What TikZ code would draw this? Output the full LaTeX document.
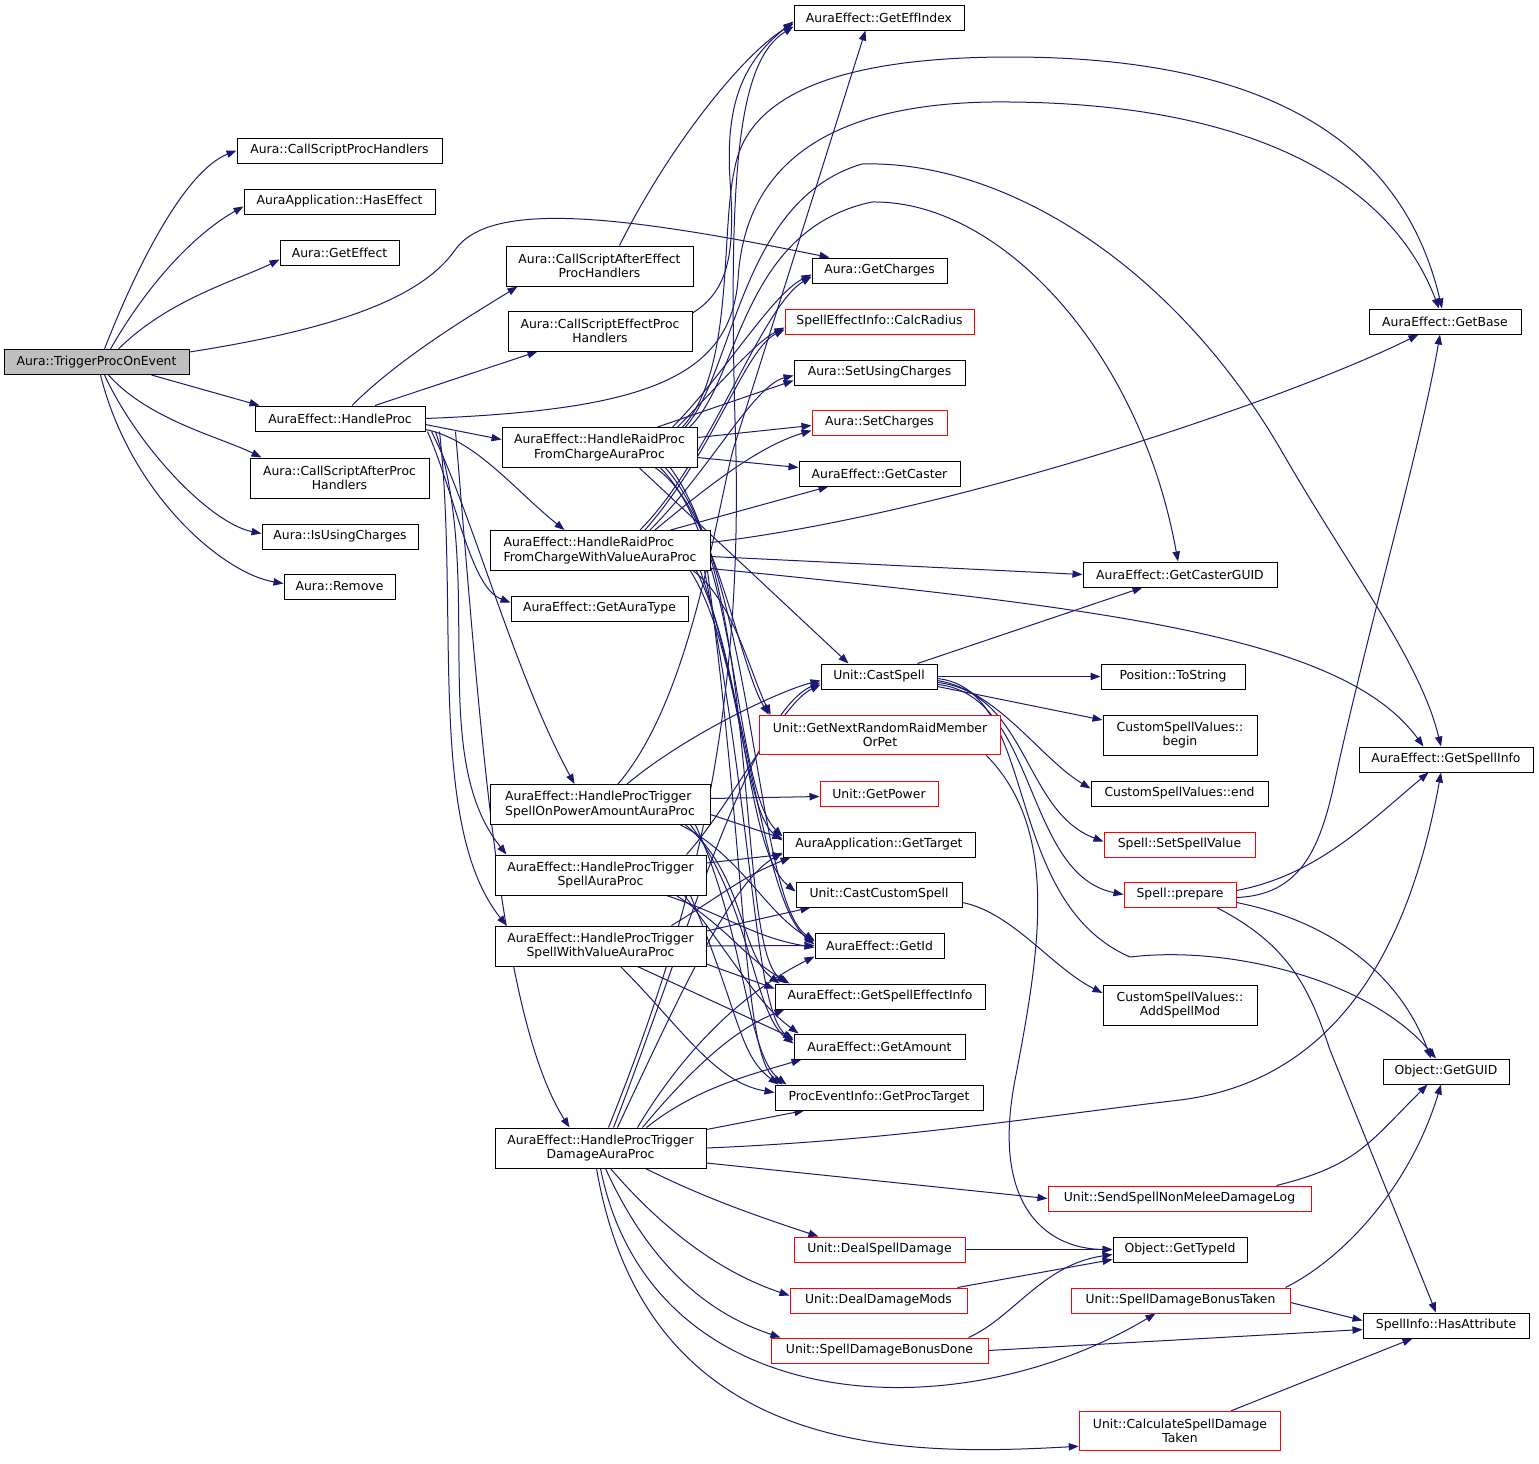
\documentclass[tikz,border=0pt]{standalone}
\usepackage{fontspec}
\setmainfont{DejaVu Sans}[Ligatures=NoCommon]
\usetikzlibrary{arrows.meta,calc}
\pgfdeclarelayer{bg}
\pgfsetlayers{bg,main}
\definecolor{edgec}{RGB}{25,25,112}
\definecolor{grayfill}{RGB}{191,191,191}
\definecolor{redc}{RGB}{255,0,0}
\tikzset{
 box/.style={draw=black, fill=white, line width=0.75pt, inner sep=0pt, align=center, minimum height=18.75pt, font=\fontsize{9.3}{11}\selectfont},
 tall/.style={minimum height=30pt},
 redb/.style={draw=redc},
 wd/.style={minimum width=#1*0.75pt},
 arr/.style={draw=edgec, line width=0.75pt, -{Triangle[length=7.5pt,width=5.5pt]}},
 redframe/.style={draw=redc, line width=1pt},
 plain/.style={inner sep=0pt, align=center, font=\fontsize{9.3}{11}\selectfont, text=black},
}
\begin{document}
\begin{tikzpicture}[x=0.75pt,y=-0.75pt]
\useasboundingbox (0,0) rectangle (1539,1464);
% two-line red boxes
\fill[white] (759,715) rectangle (1001,755);
\fill[white] (1079,1411) rectangle (1281,1451);
\node[plain, minimum width=181.5pt, minimum height=30pt] (GNR) at (880,735) {Unit::GetNextRandomRaidMember\\OrPet};
\node[plain, minimum width=151.5pt, minimum height=30pt] (CSDT) at (1180,1431) {Unit::CalculateSpellDamage\\Taken};
\draw[redframe] (759.5,715.5) rectangle (1000.5,754.5);
\draw[redframe] (1079.5,1411.5) rectangle (1280.5,1450.5);
% column 1-2
\node[box,wd=185,fill=grayfill] (T) at (96.5,362) {Aura::TriggerProcOnEvent};
\node[box,wd=205] (CSPH) at (339.5,150.5) {Aura::CallScriptProcHandlers};
\node[box,wd=191] (HasEff) at (339.5,201.5) {AuraApplication::HasEffect};
\node[box,wd=119] (GetEffect) at (339.5,252.5) {Aura::GetEffect};
\node[box,wd=170] (HP) at (340,418.5) {AuraEffect::HandleProc};
\node[box,tall,wd=179] (CSAPH) at (339.5,478) {Aura::CallScriptAfterProc\\Handlers};
\node[box,wd=156] (IsUsing) at (340,536.5) {Aura::IsUsingCharges};
\node[box,wd=111] (Remove) at (339.5,586.5) {Aura::Remove};
% column 3
\node[box,tall,wd=187] (CSAEPH) at (599.5,266) {Aura::CallScriptAfterEffect\\ProcHandlers};
\node[box,tall,wd=184] (CSEPH) at (600,331) {Aura::CallScriptEffectProc\\Handlers};
\node[box,tall,wd=195] (RC) at (599.5,447.5) {AuraEffect::HandleRaidProc\\FromChargeAuraProc};
\node[box,tall,wd=220,align=left] (RCV) at (600,550.5) {AuraEffect::HandleRaidProc\\FromChargeWithValueAuraProc};
\node[box,wd=177] (GAT) at (599.5,608.5) {AuraEffect::GetAuraType};
\node[box,tall,wd=220,align=left] (PTP) at (600,804.5) {AuraEffect::HandleProcTrigger\\SpellOnPowerAmountAuraProc};
\node[box,tall,wd=211] (PTS) at (600.5,875) {AuraEffect::HandleProcTrigger\\SpellAuraProc};
\node[box,tall,wd=211] (PTV) at (600.5,946) {AuraEffect::HandleProcTrigger\\SpellWithValueAuraProc};
\node[box,tall,wd=211] (PTD) at (600.5,1148) {AuraEffect::HandleProcTrigger\\DamageAuraProc};
% column 4
\node[box,wd=170] (GEI) at (879,17.5) {AuraEffect::GetEffIndex};
\node[box,wd=135] (GCh) at (879.5,270.5) {Aura::GetCharges};
\node[box,redb,wd=189] (CR) at (879.5,321.5) {SpellEffectInfo::CalcRadius};
\node[box,wd=171] (SUC) at (879.5,372.5) {Aura::SetUsingCharges};
\node[box,redb,wd=135] (SCh) at (879.5,422.5) {Aura::SetCharges};
\node[box,wd=161] (GCa) at (879.5,473.5) {AuraEffect::GetCaster};
\node[box,wd=116] (CS) at (879,676.5) {Unit::CastSpell};
\node[box,redb,wd=118] (GP) at (879,793.5) {Unit::GetPower};
\node[box,wd=192] (GT) at (879,844.5) {AuraApplication::GetTarget};
\node[box,wd=166] (CCS) at (879,894.5) {Unit::CastCustomSpell};
\node[box,wd=129] (GId) at (879.5,945.5) {AuraEffect::GetId};
\node[box,wd=210] (GSEI) at (880,996.5) {AuraEffect::GetSpellEffectInfo};
\node[box,wd=171] (GAm) at (879.5,1046.5) {AuraEffect::GetAmount};
\node[box,wd=208] (GPT) at (879,1097.5) {ProcEventInfo::GetProcTarget};
\node[box,redb,wd=171] (DSD) at (879.5,1249.5) {Unit::DealSpellDamage};
\node[box,redb,wd=177] (DDM) at (878.5,1300.5) {Unit::DealDamageMods};
\node[box,redb,wd=217] (SDBD) at (879.5,1350.5) {Unit::SpellDamageBonusDone};
% column 5
\node[box,wd=194] (GCG) at (1180,574.5) {AuraEffect::GetCasterGUID};
\node[box,wd=144] (TS) at (1173,676.5) {Position::ToString};
\node[box,tall,wd=154] (CBeg) at (1180,735) {CustomSpellValues::\\begin};
\node[box,wd=177] (CEnd) at (1179.5,793.5) {CustomSpellValues::end};
\node[box,redb,wd=151] (SSV) at (1179.5,844.5) {Spell::SetSpellValue};
\node[box,redb,wd=112] (SPr) at (1180,894.5) {Spell::prepare};
\node[box,tall,wd=154] (ASM) at (1180,1005) {CustomSpellValues::\\AddSpellMod};
\node[box,redb,wd=263] (SNM) at (1179.5,1198.5) {Unit::SendSpellNonMeleeDamageLog};
\node[box,wd=134] (GTI) at (1180,1249.5) {Object::GetTypeId};
\node[box,redb,wd=219] (SDBT) at (1180.5,1300.5) {Unit::SpellDamageBonusTaken};
% column 6
\node[box,wd=152] (GB) at (1445,321.5) {AuraEffect::GetBase};
\node[box,wd=174] (GSI) at (1446,759.5) {AuraEffect::GetSpellInfo};
\node[box,wd=126] (GG) at (1446,1071.5) {Object::GetGUID};
\node[box,wd=166] (HA) at (1446,1325.5) {SpellInfo::HasAttribute};

\begin{pgfonlayer}{bg}
% TriggerProcOnEvent
\draw[arr] ($(T.north)+(8,0)$) .. controls +(35,-90) and +(-50,20) .. (CSPH.west);
\draw[arr] ($(T.north)+(14,0)$) .. controls +(40,-70) and +(-45,25) .. ($(HasEff.west)+(0,5)$);
\draw[arr] ($(T.north)+(22,0)$) .. controls +(50,-50) and +(-40,20) .. ($(GetEffect.west)+(0,7)$);
\draw[arr] ($(T.east)+(0,-10)$) .. controls (330,330) and (420,300) .. (455,250) .. controls (490,200) and (620,215) .. ($(GCh.north west)+(18,0)$);
\draw[arr] ($(T.south)+(55,0)$) -- ($(HP.north west)+(5,0)$);
\draw[arr] ($(T.south)+(12,0)$) .. controls +(40,45) and +(-40,-20) .. ($(CSAPH.north west)+(12,0)$);
\draw[arr] ($(T.south)+(8,0)$) .. controls +(35,75) and +(-50,-10) .. ($(IsUsing.west)+(0,-3)$);
\draw[arr] ($(T.south)+(4,0)$) .. controls +(30,120) and +(-60,-10) .. ($(Remove.west)+(0,-3)$);
% HandleProc
\draw[arr] ($(HP.north)+(12,0)$) .. controls +(50,-50) and +(-40,25) .. ($(CSAEPH.south west)+(12,0)$);
\draw[arr] ($(HP.north)+(35,0)$) -- ($(CSEPH.south west)+(30,0)$);
\draw[arr] (HP.east) .. controls (640,410) and (730,380) .. (738,280) .. controls (745,150) and (850,100) .. (1010,102) .. controls (1250,104) and (1390,180) .. ($(GB.north)+(-6,0)$);
\draw[arr] ($(HP.east)+(0,6)$) -- ($(RC.west)+(0,-8)$);
\draw[arr] ($(HP.south east)+(0,-2)$) .. controls +(50,10) and +(-50,-40) .. ($(RCV.north west)+(75,0)$);
\draw[arr] ($(HP.south east)+(2,0)$) .. controls +(30,70) and +(-40,-15) .. ($(GAT.west)+(0,-6)$);
\draw[arr] ($(HP.south east)+(6,0)$) .. controls +(40,80) and +(-60,-110) .. ($(PTP.north west)+(85,0)$);
\draw[arr] ($(HP.south east)+(10,0)$) .. controls +(50,150) and +(-80,-100) .. ($(PTS.north west)+(12,0)$);
\draw[arr] ($(HP.south east)+(14,0)$) .. controls +(20,180) and +(-80,-100) .. ($(PTV.north west)+(12,0)$);
\draw[arr] ($(HP.south east)+(30,0)$) .. controls +(25,300) and +(-70,-110) .. ($(PTD.north west)+(75,0)$);
% CallScript...
\draw[arr] ($(CSAEPH.north)+(20,0)$) .. controls +(50,-100) and +(-50,30) .. ($(GEI.west)+(0,6)$);
\draw[arr] ($(CSEPH.east)+(0,-18)$) .. controls (730,290) and (735,250) .. (730,180) .. controls (725,100) and (745,60) .. ($(GEI.west)+(0,4)$);
% RC
\draw[arr] ($(RC.east)+(0,-10)$) -- ($(SCh.west)+(0,3)$);
\draw[arr] ($(RC.east)+(0,10)$) -- ($(GCa.west)+(0,-6)$);
\draw[arr] ($(RC.north east)+(-40,0)$) -- ($(SUC.west)+(0,8)$);
\draw[arr] ($(RC.north east)+(-25,0)$) .. controls +(50,-50) and +(-40,20) .. ($(GCh.west)+(0,4)$);
\draw[arr] ($(RC.north east)+(-20,0)$) .. controls +(40,-40) and +(-30,15) .. ($(CR.west)+(0,6)$);
\draw[arr] ($(RC.north east)+(-15,0)$) .. controls (735,370) and (720,230) .. (735,167) .. controls (750,90) and (850,57) .. (1010,57) .. controls (1250,57) and (1400,130) .. ($(GB.north)+(-3,0)$);
\draw[arr] ($(RC.north east)+(-12,0)$) .. controls (735,370) and (740,200) .. (862,164) .. controls (1000,160) and (1170,260) .. (1281,450) .. controls (1350,570) and (1420,660) .. ($(GSI.north)+(-5,0)$);
\draw[arr] ($(RC.north east)+(-8,0)$) .. controls (740,380) and (740,230) .. (872,202) .. controls (1000,200) and (1140,350) .. ($(GCG.north)+(-2,0)$);
\draw[arr] ($(RC.south)+(40,0)$) -- ($(CS.north west)+(28,0)$);
\draw[arr] ($(RC.south east)+(-42,0)$) .. controls +(60,40) and +(-30,-50) .. ($(GNR.north west)+(10,0)$);
\draw[arr] ($(RC.south east)+(-37,0)$) .. controls +(80,80) and +(-50,-50) .. ($(GT.west)+(0,-8)$);
\draw[arr] ($(RC.south east)+(-32,0)$) .. controls +(90,100) and +(-60,-40) .. ($(GId.west)+(0,-5)$);
\draw[arr] ($(RC.south east)+(-27,0)$) .. controls +(90,120) and +(-50,-40) .. ($(GSEI.north west)+(12,0)$);
% RCV
\draw[arr] ($(RCV.north east)+(-40,0)$) -- ($(GCa.south west)+(30,0)$);
\draw[arr] ($(RCV.east)+(0,-8)$) .. controls +(250,-30) and +(-120,60) .. ($(GB.south west)+(50,0)$);
\draw[arr] ($(RCV.east)+(0,6)$) -- (GCG.west);
\draw[arr] ($(RCV.east)+(0,18)$) .. controls +(400,40) and +(-80,-110) .. ($(GSI.north west)+(65,0)$);
\draw[arr] ($(RCV.north)+(40,0)$) .. controls +(70,-70) and +(-50,30) .. ($(GCh.west)+(0,6)$);
\draw[arr] ($(RCV.north)+(45,0)$) .. controls +(70,-80) and +(-40,20) .. ($(CR.west)+(0,8)$);
\draw[arr] ($(RCV.north)+(50,0)$) .. controls +(60,-60) and +(-40,10) .. ($(SUC.west)+(0,3)$);
\draw[arr] ($(RCV.north)+(55,0)$) .. controls +(60,-50) and +(-50,15) .. ($(SCh.west)+(0,8)$);
\draw[arr] ($(RCV.south east)+(-17,0)$) .. controls +(40,30) and +(-20,-40) .. ($(GNR.north west)+(12,0)$);
\draw[arr] ($(RCV.south east)+(-20,0)$) .. controls +(50,80) and +(-40,-30) .. ($(GT.west)+(0,-4)$);
\draw[arr] ($(RCV.south east)+(-14,0)$) .. controls +(50,100) and +(-50,-40) .. ($(CCS.west)+(0,-3)$);
\draw[arr] ($(RCV.south east)+(-10,0)$) .. controls +(50,150) and +(-50,-40) .. ($(GId.west)+(0,-1)$);
\draw[arr] ($(RCV.south east)+(-6,0)$) .. controls +(50,250) and +(-40,-30) .. ($(GAm.west)+(0,-6)$);
\draw[arr] ($(RCV.south east)+(-3,0)$) .. controls +(40,300) and +(-40,-30) .. ($(GPT.north west)+(8,0)$);
% PTP
\draw[arr] ($(PTP.north)+(18,0)$) .. controls (690,700) and (715,520) .. (733,450) -- ($(GEI.south west)+(72,0)$);
\draw[arr] ($(PTP.north)+(27,0)$) .. controls +(60,-50) and +(-40,10) .. ($(CS.west)+(0,4)$);
\draw[arr] ($(PTP.east)+(0,-6)$) -- ($(GP.west)+(0,3)$);
\draw[arr] ($(PTP.east)+(0,10)$) -- ($(GT.west)+(0,-6)$);
\draw[arr] ($(PTP.south east)+(-30,0)$) .. controls +(60,30) and +(-50,-30) .. ($(GId.west)+(0,-4)$);
\draw[arr] ($(PTP.south east)+(-25,0)$) .. controls +(60,50) and +(-40,-30) .. ($(GSEI.north west)+(5,0)$);
\draw[arr] ($(PTP.south east)+(-20,0)$) .. controls +(60,80) and +(-40,-30) .. ($(GAm.west)+(0,-3)$);
\draw[arr] ($(PTP.south east)+(-15,0)$) .. controls +(50,110) and +(-40,-30) .. ($(GPT.north west)+(12,0)$);
% PTS
\draw[arr] ($(PTS.east)+(0,-12)$) -- ($(GT.west)+(0,10)$);
\draw[arr] ($(PTS.north east)+(-20,0)$) .. controls +(45,-50) and +(-40,20) .. ($(CS.west)+(0,8)$);
\draw[arr] ($(PTS.south east)+(-40,0)$) .. controls +(60,20) and +(-60,-10) .. ($(GId.west)+(0,2)$);
\draw[arr] ($(PTS.south east)+(-30,0)$) .. controls +(60,40) and +(-50,-30) .. ($(GSEI.north west)+(15,0)$);
\draw[arr] ($(PTS.south east)+(-22,0)$) .. controls +(60,80) and +(-40,-30) .. ($(GAm.north west)+(5,0)$);
\draw[arr] ($(PTS.south east)+(-16,0)$) .. controls +(50,120) and +(-40,-30) .. ($(GPT.north west)+(4,0)$);
% PTV
\draw[arr] ($(PTV.north east)+(-35,0)$) .. controls +(50,-30) and +(-50,20) .. ($(GT.south west)+(8,0)$);
\draw[arr] ($(PTV.east)+(0,-15)$) -- ($(CCS.south west)+(15,0)$);
\draw[arr] (PTV.east) -- (GId.west);
\draw[arr] ($(PTV.east)+(0,18)$) -- ($(GSEI.west)+(0,-8)$);
\draw[arr] ($(PTV.south)+(37,0)$) -- ($(GAm.west)+(0,-8)$);
\draw[arr] ($(PTV.south)+(20,0)$) .. controls +(60,60) and +(-60,-10) .. ($(GPT.west)+(0,-5)$);
% PTD
\draw[arr] ($(PTD.north)+(13,0)$) .. controls +(70,-180) and +(-70,30) .. ($(CS.west)+(0,6)$);
\draw[arr] ($(PTD.north)+(17,0)$) .. controls +(70,-150) and +(-50,30) .. ($(GT.west)+(0,8)$);
\draw[arr] ($(PTD.north)+(8,0)$) .. controls (700,900) and (745,700) .. (735,420) .. controls (728,160) and (740,60) .. ($(GEI.west)+(0,9)$);
\draw[arr] ($(PTD.north)+(37,0)$) .. controls +(60,-100) and +(-50,25) .. ($(GId.south west)+(0,-2)$);
\draw[arr] ($(PTD.north)+(42,0)$) .. controls +(50,-60) and +(-50,20) .. ($(GSEI.south west)+(10,0)$);
\draw[arr] ($(PTD.north east)+(-60,0)$) .. controls +(50,-40) and +(-50,15) .. ($(GAm.south west)+(8,0)$);
\draw[arr] ($(PTD.north east)+(0,2)$) -- ($(GPT.south west)+(30,0)$);
\draw[arr] (PTD.east) .. controls (900,1140) and (1050,1115) .. (1180,1100) .. controls (1300,1085) and (1400,1000) .. ($(GSI.south)+(-5,0)$);
\draw[arr] ($(PTD.east)+(0,15)$) -- (SNM.west);
\draw[arr] ($(PTD.south)+(45,0)$) .. controls +(60,30) and +(-60,-20) .. ($(DSD.north west)+(25,0)$);
\draw[arr] ($(PTD.south)+(10,0)$) .. controls +(60,70) and +(-60,-20) .. ($(DDM.west)+(0,-5)$);
\draw[arr] ($(PTD.south)+(5,0)$) .. controls +(50,110) and +(-60,-20) .. ($(SDBD.north west)+(10,0)$);
\draw[arr] (PTD.south) .. controls +(50,250) and +(-200,120) .. ($(SDBT.south west)+(85,0)$);
\draw[arr] ($(PTD.south)+(-4,0)$) .. controls +(50,290) and +(-180,10) .. ($(CSDT.south west)+(0,-5)$);
% CastSpell
\draw[arr] ($(CS.north east)+(-20,0)$) -- ($(GCG.south west)+(60,0)$);
\draw[arr] (CS.east) -- (TS.west);
\draw[arr] ($(CS.east)+(0,10)$) -- ($(CBeg.west)+(0,-15)$);
\draw[arr] ($(CS.east)+(0,4)$) .. controls +(60,10) and +(-50,-30) .. ($(CEnd.west)+(0,-5)$);
\draw[arr] ($(CS.east)+(0,6)$) .. controls +(90,10) and +(-80,-30) .. ($(SSV.west)+(0,-3)$);
\draw[arr] ($(CS.east)+(0,8)$) .. controls +(100,10) and +(-100,-20) .. (SPr.west);
\draw[arr] ($(CS.east)+(0,2)$) .. controls (1040,690) and (1000,900) .. (1130,957) .. controls (1230,945) and (1370,980) .. ($(GG.north)+(-10,0)$);
% others
\draw[arr] ($(GNR.south east)+(-15,0)$) .. controls (1060,830) and (1040,950) .. (1015,1080) .. controls (990,1210) and (1050,1249) .. (GTI.west);
\draw[arr] ($(CCS.east)+(0,8)$) .. controls +(50,10) and +(-50,-25) .. ($(ASM.west)+(0,-12)$);
\draw[arr] ($(SPr.east)+(0,3)$) .. controls (1300,895) and (1320,850) .. (1335,780) .. controls (1370,620) and (1420,450) .. ($(GB.south)+(-5,0)$);
\draw[arr] ($(SPr.east)+(0,-4)$) .. controls +(80,-15) and +(-60,50) .. ($(GSI.south west)+(70,0)$);
\draw[arr] ($(SPr.east)+(0,8)$) .. controls +(100,20) and +(-30,-80) .. ($(GG.north)+(-15,0)$);
\draw[arr] ($(SPr.south east)+(-20,0)$) .. controls (1290,945) and (1310,990) .. (1330,1050) -- ($(HA.north)+(-10,0)$);
\draw[arr] ($(SNM.north east)+(-35,0)$) .. controls +(80,-20) and +(-60,60) .. ($(GG.south west)+(45,0)$);
\draw[arr] (DSD.east) -- (GTI.west);
\draw[arr] ($(DDM.north east)+(-10,0)$) -- ($(GTI.south west)+(0,-3)$);
\draw[arr] ($(SDBD.north east)+(-20,0)$) .. controls +(45,-20) and +(-70,10) .. ($(GTI.west)+(0,5)$);
\draw[arr] (SDBD.east) -- ($(HA.west)+(0,4)$);
\draw[arr] ($(SDBT.north east)+(-5,0)$) .. controls +(60,-30) and +(-30,100) .. ($(GG.south)+(-5,0)$);
\draw[arr] ($(SDBT.east)+(0,2)$) -- ($(HA.west)+(0,-5)$);
\draw[arr] ($(CSDT.north east)+(-50,0)$) -- ($(HA.south west)+(50,0)$);
\end{pgfonlayer}
\end{tikzpicture}
\end{document}
